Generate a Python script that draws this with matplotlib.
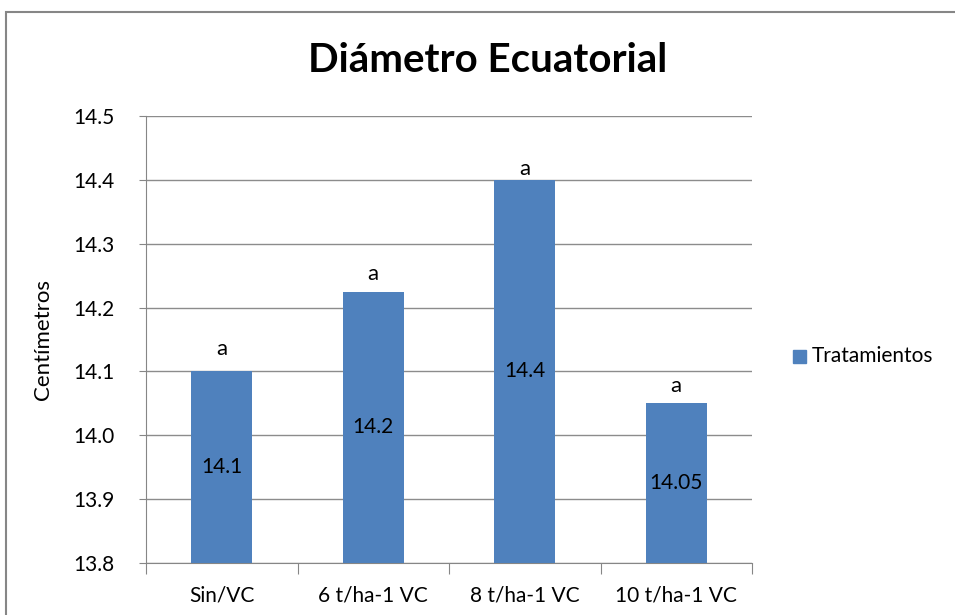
import matplotlib.pyplot as plt
from matplotlib.patches import Rectangle
import numpy as np

# Datos del grafico
categorias = ["Sin/VC", "6 t/ha-1 VC", "8 t/ha-1 VC", "10 t/ha-1 VC"]
valores = [14.1, 14.225, 14.4, 14.05]
etiquetas = ["14.1", "14.2", "14.4", "14.05"]
letras = ["a", "a", "a", "a"]

plt.rcParams['font.family'] = ['Lato', 'DejaVu Sans']

W, H = 955, 615
fig = plt.figure(figsize=(W / 100, H / 100), dpi=100)

# Borde exterior del grafico (estilo Excel)
fig.patches.append(Rectangle((6 / W, -0.1), 1.2, 1 - 12 / H + 0.1,
                             transform=fig.transFigure, fill=False,
                             edgecolor="#868686", linewidth=1.5))

ax = fig.add_axes([146 / W, 1 - 563 / H, (752 - 146) / W, (563 - 116) / H])

x = np.arange(len(categorias))
base = 13.8
color = "#4F81BD"
ax.bar(x, np.array(valores) - base, bottom=base, width=0.4, color=color, zorder=3)

ax.set_xlim(-0.5, len(categorias) - 0.5)
ax.set_ylim(13.8, 14.5)
ax.set_yticks(np.arange(13.8, 14.51, 0.1))
ax.set_yticklabels(["%.1f" % v for v in np.arange(13.8, 14.51, 0.1)], fontsize=15)
ax.yaxis.grid(True, color="#8c8c8c", linewidth=1, zorder=0)

# Ticks del eje x en los limites de categoria
ax.set_xticks(np.arange(-0.5, len(categorias)), minor=False)
ax.set_xticklabels([])
ax.set_xticks(x, minor=True)
ax.set_xticklabels(categorias, minor=True, fontsize=15)
ax.tick_params(axis="x", which="minor", length=0, pad=16)
ax.tick_params(axis="x", which="major", length=8, color="#868686", direction="out")
ax.tick_params(axis="y", length=5, color="#868686", direction="out", pad=18)

for s in ["top", "right"]:
    ax.spines[s].set_visible(False)
for s in ["left", "bottom"]:
    ax.spines[s].set_color("#868686")

# Etiquetas de valores y letras (las letras estan colocadas a mano en el original)
sep = [11.5, 8, 3.6, 8]
for i, v in enumerate(valores):
    ax.text(i, (v + base) / 2, etiquetas[i], ha="center", va="center", fontsize=15, zorder=4)
    ax.annotate(letras[i], (i, v), xytext=(0, sep[i]), textcoords="offset points",
                ha="center", va="baseline", fontsize=16)

ax.set_ylabel("Centímetros", fontsize=16, labelpad=14)
fig.text(488 / W, 1 - 60 / H, "Diámetro Ecuatorial", ha="center", va="center",
         fontsize=29, fontweight="bold")

# Leyenda
fig.patches.append(Rectangle((793 / W, 1 - 363 / H), 13 / W, 13 / H,
                             transform=fig.transFigure, color=color))
fig.text(812 / W, 1 - 356 / H, "Tratamientos", ha="left", va="center", fontsize=15)

fig.savefig("out.png", dpi=100)
